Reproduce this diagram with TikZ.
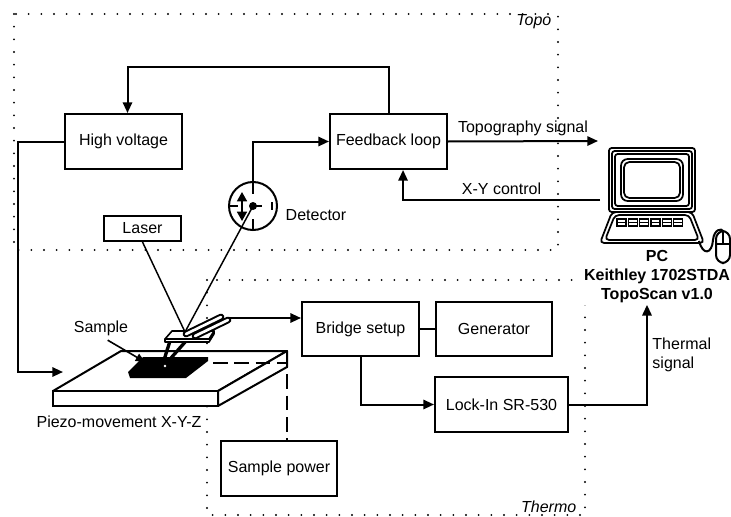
\documentclass[tikz,border=0pt]{standalone}
\usepackage{fontspec}
\setmainfont{Liberation Sans}
\usetikzlibrary{arrows.meta}

\begin{document}
\begin{tikzpicture}[
    x=0.75pt, y=-0.75pt,
    font=\fontsize{12}{14}\selectfont,
    box/.style={draw, line width=1.5pt, minimum width=87.75pt, minimum height=41.25pt, inner sep=0pt, align=center},
    arrow/.style={-{Triangle[length=8pt,width=7pt]}, line width=1.5pt},
    beam/.style={line width=1.1pt},
    frame/.style={line width=1.6pt, dash pattern=on 0pt off 9.5pt, line cap=round},
    pcline/.style={line width=1.3pt},
    tag/.style={font=\fontsize{12}{14}\selectfont\itshape},
]
\useasboundingbox (0,0) rectangle (731,517);

% Measurement areas
\draw[frame] (14,14) rectangle (558,250);
\draw[frame] (207,280) rectangle (585,515);
\node[tag, anchor=east] (topolbl) at (556,22) {Topo};
\node[tag, anchor=east] (thermolbl) at (581,507) {Thermo};

% Piezo stage
\draw[line width=1.5pt, fill=white, line join=round] (121,351) -- (287,351) -- (218,391) -- (53,391) -- cycle;
\draw[line width=1.5pt, fill=white] (53,391) rectangle (218,406);
\draw[line width=1.5pt, fill=white, line join=round] (218,391) -- (287,351) -- (287,367) -- (218,406) -- cycle;
\node (piezolbl) at (119,422) {Piezo-movement X-Y-Z};
\coordinate (piezoin) at (63,372);

% Sample
\fill (143,357) -- (208,357) -- (208,361) -- (186,378) -- (130,378) -- (128,372) -- cycle;
\coordinate (sampletop) at (145,362);
\coordinate (sampleR) at (213,363);
\node (samplelbl) at (101,328) {Sample};
\draw[-{Triangle[length=7pt,width=6pt]}, line width=1.2pt] ([xshift=5pt]samplelbl.south) -- (sampletop);

% Laser and detector
\node[box, minimum width=57.75pt, minimum height=18.75pt] (laser) at (142.5,228.5) {Laser};
\node[draw, circle, line width=1.5pt, minimum size=36pt, inner sep=0pt] (det) at (253,206) {};
\node[anchor=west] (detlbl) at (281,215) {Detector};
\fill (det.center) circle (3pt);
\draw[line width=1.5pt] (det.center) -- ++(9,0);
\draw[line width=1.5pt] (det.north) -- ++(0,13);
\draw[line width=1.5pt] (det.south) -- ++(0,-12);
\draw[line width=1.5pt] (det.west) -- ++(10,0);
\draw[line width=1.5pt] (272,202) -- (272,210);
\draw[{Triangle[length=7pt,width=7.5pt]}-{Triangle[length=7pt,width=7.5pt]}, line width=1.2pt] (242,192) -- (242,221);

\coordinate (spot) at (185,332);
\draw[beam] (laser.south) -- (spot);
\draw[beam] (det.center) -- (spot);

% Probe
\draw[line width=2.5pt] (170,341) -- (164,360);
\draw[line width=2.5pt] (186,341) -- (171,358);
\fill[white] (165,366) circle (1pt);
\draw[line width=1.2pt, fill=white, line join=round] (165,339) -- (209,339) -- (214,331) -- (214,334) -- (209,342) -- (165,342) -- cycle;
\draw[line width=1.2pt, fill=white, line join=round] (172,331) -- (214,331) -- (209,339) -- (165,339) -- cycle;
\foreach \a/\b in {{(186,334)}/{(221,317)}, {(195,336)}/{(228,320)}} {
  \draw[line width=5pt, line cap=round] \a -- \b;
  \draw[white, line width=2pt, line cap=round] \a -- \b;
}
\coordinate (cant) at (229,318);

% Electronics
\node[box] (hv) at (123.5,141.5) {High voltage};
\node[box] (fb) at (388.5,141.5) {Feedback loop};
\node[box, minimum height=40.5pt] (br) at (360.5,329) {Bridge setup};
\node[box, minimum width=87pt, minimum height=40.5pt] (gen) at (494,329) {Generator};
\node[box, minimum width=99.75pt] (li) at (501.5,404.5) {Lock-In SR-530};
\node[box, minimum width=87pt] (sp) at (279,468.5) {Sample power};

% PC
\node[font=\fontsize{12}{14.25}\selectfont\bfseries, align=center, fill=white, inner sep=1pt] (pclbl) at (657,277) {PC\\Keithley 1702STDA\\TopoScan v1.0};
\draw[pcline, rounded corners=2pt] (609,148) rectangle (695,212);
\draw[pcline, rounded corners=2pt] (612,151) rectangle (692,209);
\draw[pcline, rounded corners=2pt] (615,154) rectangle (689,206);
\draw[pcline, rounded corners=5pt] (621,159) rectangle (683,201);
\draw[pcline, rounded corners=4pt] (624,162) rectangle (680,198);
\draw[pcline, rounded corners=3pt] (612,212) -- (692,212) -- (704,243) -- (600,243) -- cycle;
\draw[pcline, rounded corners=3pt] (615,215) -- (689,215) -- (699,240) -- (605,240) -- cycle;
\foreach \k in {0,...,5} {
  \draw[line width=0.9pt] ({617+\k*11.3},219) rectangle ++(9,7);
  \draw[line width=0.9pt] ({617+\k*11.3},222.5) -- ++(9,0);
}
\draw[line width=1.5pt] (699,241) .. controls (703,256) and (712,254) .. (713,240) .. controls (714,229) and (722,228) .. (723,231);
\draw[line width=1.5pt, rounded corners=6pt] (716,231) rectangle (730,263);
\draw[line width=1.2pt] (716,244) -- (730,244);
\draw[line width=1.2pt] (723,231) -- (723,244);
\coordinate (pcin) at (598,141);
\coordinate (pcout) at (600,200);

% Signal paths
\draw[arrow] (fb.north) -- ++(0,-46) -| ([xshift=3pt]hv.north);
\draw[arrow] (hv.west) -- ++(-46,0) |- (piezoin);
\draw[arrow] (det.north) |- (fb.west);
\draw[arrow] (fb.east) -- node[above] {Topography signal} (pcin);
\draw[arrow] (pcout) -| node[pos=0.25, above] {X-Y control} ([xshift=10.9pt]fb.south);
\draw[arrow] (cant) -- (cant -| br.west);
\draw[line width=1.5pt] (br.east) -- (gen.west);
\draw[arrow] (br.south) |- (li.west);
\draw[arrow] (li.east) -| node[pos=0.75, right, align=left] {Thermal\\signal} ([xshift=-7.5pt]pclbl.south);
\draw[line width=1.5pt, dash pattern=on 11pt off 5pt] (sampleR) -| ([xshift=6pt]sp.north);

\end{tikzpicture}
\end{document}
